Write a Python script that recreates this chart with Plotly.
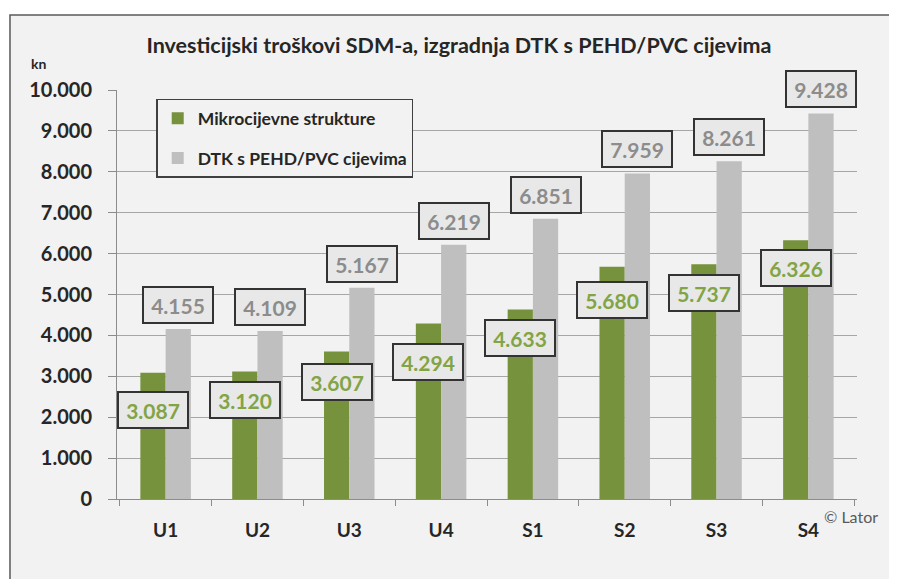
import plotly.graph_objects as go

categories = ["U1", "U2", "U3", "U4", "S1", "S2", "S3", "S4"]
mikro = [3087, 3120, 3607, 4294, 4633, 5680, 5737, 6326]
dtk = [4155, 4109, 5167, 6219, 6851, 7959, 8261, 9428]
mikro_labels = ["3.087", "3.120", "3.607", "4.294", "4.633", "5.680", "5.737", "6.326"]
dtk_labels = ["4.155", "4.109", "5.167", "6.219", "6.851", "7.959", "8.261", "9.428"]
y_tickvals = [0, 1000, 2000, 3000, 4000, 5000, 6000, 7000, 8000, 9000, 10000]
y_ticktext = ["0", "1.000", "2.000", "3.000", "4.000", "5.000", "6.000", "7.000", "8.000", "9.000", "10.000"]

# style / layout settings
GREEN = "#76923c"
GREY = "#bfbfbf"
FONT = "Lato"
BARGAP = 0.45
green_label_drop_px = [37, 29, 31, 39, 28, 33, 29, 28]

fig = go.Figure()
fig.add_trace(go.Bar(x=categories, y=mikro, name="Mikrocijevne strukture",
                     marker=dict(color=GREEN, line=dict(width=0)), legendgroup="a"))
fig.add_trace(go.Bar(x=categories, y=dtk, name="DTK s PEHD/PVC cijevima",
                     marker=dict(color=GREY, line=dict(width=0)), legendgroup="b"))

half = (1 - BARGAP) / 4
annotations = []
for i, cat in enumerate(categories):
    annotations.append(dict(
        x=i - half, y=mikro[i], xref="x", yref="y", text=mikro_labels[i],
        showarrow=False, yanchor="middle", yshift=-green_label_drop_px[i],
        font=dict(family=FONT, size=21, color="#82a444", weight="bold"),
        bgcolor="#e8e8e8", bordercolor="#333333", borderwidth=2, borderpad=3,
        width=62, height=28))
    annotations.append(dict(
        x=i + half, y=dtk[i], xref="x", yref="y", text=dtk_labels[i],
        showarrow=False, yanchor="bottom", yshift=5,
        font=dict(family=FONT, size=21, color="#8c8c8c", weight="bold"),
        bgcolor="#e8e8e8", bordercolor="#333333", borderwidth=2, borderpad=3,
        width=62, height=28))

annotations.append(dict(x=-0.119, y=1.066, xref="paper", yref="paper", text="kn",
                        showarrow=False, xanchor="left", yanchor="middle",
                        font=dict(family=FONT, size=14, color="#262626", weight="bold")))
annotations.append(dict(x=1.031, y=-0.042, xref="paper", yref="paper", text="© Lator",
                        showarrow=False, xanchor="right", yanchor="middle",
                        font=dict(family=FONT, size=16, color="#595959")))

shapes = [dict(type="rect", xref="paper", yref="paper", x0=-0.1446, x1=1.2,
               y0=-0.25, y1=1.1834, fillcolor="#f2f2f2",
               line=dict(color="#595959", width=1.5), layer="below")]

fig.update_layout(
    width=889, height=571,
    margin=dict(l=109, r=40, t=82, b=80),
    paper_bgcolor="white", plot_bgcolor="white",
    barmode="group", bargap=BARGAP, bargroupgap=0,
    title=dict(text="Investicijski troškovi SDM-a, izgradnja DTK s PEHD/PVC cijevima",
               x=(459 - 8) / 889, y=1 - (45 - 8) / 571, xanchor="center", yanchor="middle",
               xref="container", yref="container",
               font=dict(family=FONT, size=21.5, color="#262626", weight="bold")),
    legend=dict(x=0.053, y=0.978, xanchor="left", yanchor="top",
                bgcolor="#f2f2f2", bordercolor="#404040", borderwidth=1.5,
                font=dict(family=FONT, size=17.5, color="#262626", weight="bold"),
                tracegroupgap=14, itemclick=False),
    annotations=annotations, shapes=shapes,
    xaxis=dict(type="category", showline=True, linecolor="#8c8c8c", linewidth=1,
               ticks="outside", tickson="boundaries", ticklen=6, tickcolor="#8c8c8c",
               ticklabelstandoff=14,
               tickfont=dict(family=FONT, size=19, color="#262626", weight="bold"),
               showgrid=False),
    yaxis=dict(range=[0, 10000], tickvals=y_tickvals, ticktext=y_ticktext,
               showline=True, linecolor="#8c8c8c", linewidth=1,
               ticks="outside", ticklen=8, tickcolor="#8c8c8c", ticklabelstandoff=12,
               tickfont=dict(family=FONT, size=20, color="#262626", weight="bold"),
               showgrid=True, gridcolor="#a6a6a6", gridwidth=1, zeroline=False),
)

fig.write_html("out.html")
